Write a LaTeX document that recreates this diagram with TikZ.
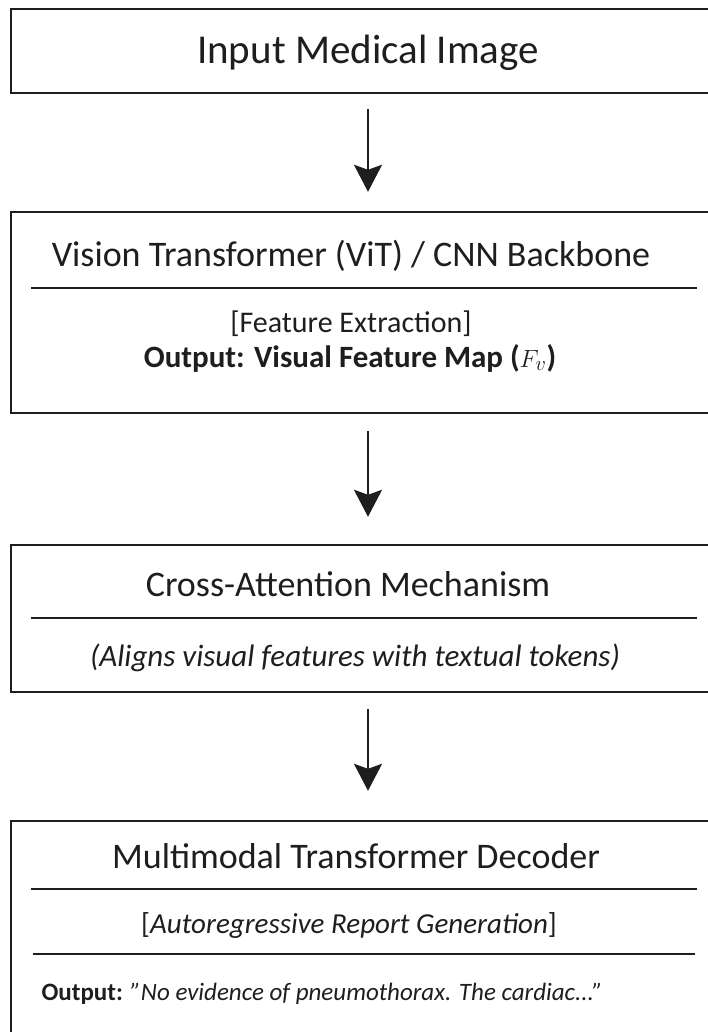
\documentclass[tikz,border=0pt]{standalone}
\usepackage{fontspec}
\setmainfont{Carlito}
\usetikzlibrary{arrows.meta}
\definecolor{ink}{HTML}{1E1E1E}

\tikzset{
	stage/.style={draw=ink, line width=2.4pt, inner sep=0pt, minimum width=714pt},
	flow/.style={draw=ink, line width=2.4pt, -{Stealth[length=27pt,width=28pt,inset=5pt]}},
	rule/.style={draw=ink, line width=2pt},
	thinrule/.style={draw=ink, line width=1.3pt},
	head/.style={anchor=base, text=ink, font=\fontsize{36}{42}\selectfont},
	body/.style={anchor=base, text=ink, font=\fontsize{30}{36}\selectfont}
}

\begin{document}
\begin{tikzpicture}[x=1pt,y=-1pt]
	\path[use as bounding box] (0,0) rectangle (708,1032);
	\clip (0,0) rectangle (708,1032);
	% stages
	\node[stage, minimum height=84pt] (img) at (368,51) {};
	\node[stage, minimum height=201pt] (vit) at (368,312.5) {};
	\node[stage, minimum height=147pt] (xatt) at (368,618.5) {};
	\node[stage, minimum height=240pt] (dec) at (368,941) {};
	% texts
	\node[head, font=\fontsize{41}{48}\selectfont] (imgT) at (368,64) {Input Medical Image};
	\node[head] (vitT) at (351,266) {Vision Transformer (ViT) / CNN Backbone};
	\node[body] (vitA) at (351,332) {[Feature Extraction]};
	\node[body, font=\fontsize{31}{36}\selectfont\bfseries] (vitB) at (350,367) {Output: Visual Feature Map ($F_v$)};
	\node[head] (xattT) at (348,596) {Cross-Attention Mechanism};
	\node[body, font=\fontsize{31}{36}\selectfont\itshape] (xattA) at (355,666) {(Aligns visual features with textual tokens)};
	\node[head] (decT) at (356,868) {Multimodal Transformer Decoder};
	\node[body, font=\fontsize{29}{36}\selectfont] (decA) at (349,933) {[\textit{Autoregressive Report Generation}]};
	\node[body, anchor=base west, font=\fontsize{25}{30}\selectfont] (decB) at (38,1000) {\textbf{Output:} \textit{"No evidence of pneumothorax. The cardiac..."}};
	% rules
	\draw[rule] (31,288) -- (697,288);
	\draw[rule] (31,618) -- (697,618);
	\draw[rule] (31,889) -- (697,889);
	\draw[thinrule] (33,954) -- (695,954);
	% arrows
	\draw
	(img) edge[flow, shorten <=15pt, shorten >=19pt] (vit)
	(vit) edge[flow, shorten <=17pt, shorten >=27pt] (xatt)
	(xatt) edge[flow, shorten <=16pt, shorten >=29pt] (dec);
\end{tikzpicture}
\end{document}
